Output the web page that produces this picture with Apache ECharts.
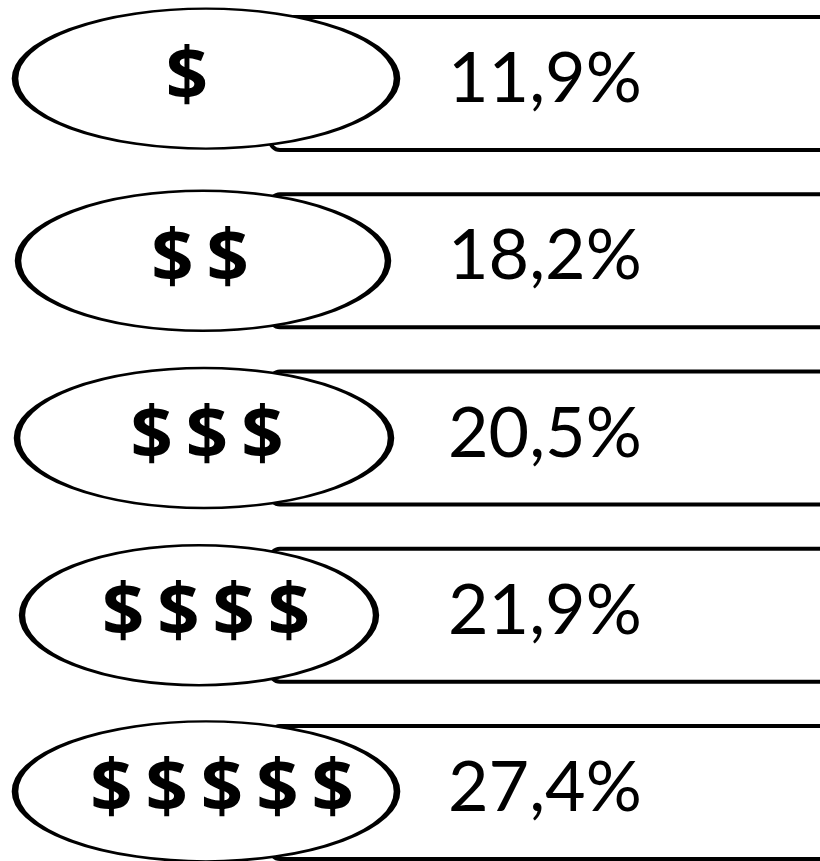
<!DOCTYPE html>
<html>
<head>
<meta charset="utf-8">
<script src="https://cdn.jsdelivr.net/npm/echarts@6/dist/echarts.min.js"></script>
<style>
    html, body { margin: 0; padding: 0; background: #fff; }
    #chart_wrap { width: 820px; height: 861px; }
</style>
</head>
<body>
<div id="chart_wrap"></div>
<script>
// price levels and share of answers
var levels = ['$', '$ $', '$ $ $', '$ $ $ $', '$ $ $ $ $'];
var shares = [11.9, 18.2, 20.5, 21.9, 27.4];

// oval badge look
var badgeCenterX = [206, 203, 204, 199, 206];
var badgeWidths = [382, 370, 374, 354, 382];
var badgeShiftY = [-5, 0, 0, 0, -1];
var badgeTextShift = [-19, -3, 3, 7, 16];
var badgeHeight = 140;

var formatShare = function(val) {
    return val.toFixed(1).replace('.', ',') + '%';
};

// big dollar signs, fixed gaps
var formatLevel = function(text) {
    return text.split(' ').map(function(s) {
        return '{d|' + s + '}';
    }).join('{s| }');
};

var badgeData = [];
for (var i = 0; i < levels.length; i++) {
    badgeData.push({
        value: [badgeCenterX[i], levels[i]],
        symbolSize: [badgeWidths[i], badgeHeight],
        symbolOffset: [0, badgeShiftY[i]],
        label: {
            offset: [badgeTextShift[i], 0]
        }
    });
}

var myChart = echarts.init(document.getElementById('chart_wrap'));

var option = {
    animation: false,
    backgroundColor: '#fff',
    grid: [{
        left: 268,
        right: 0,
        top: -5,
        height: 886,
        outerBoundsMode: 'none'
    }, {
        left: 0,
        right: 0,
        top: -5,
        height: 886,
        outerBoundsMode: 'none'
    }],
    xAxis: [{
        gridIndex: 0,
        type: 'value',
        min: 0,
        max: 10,
        show: false
    }, {
        gridIndex: 1,
        type: 'value',
        min: 0,
        max: 820,
        show: false
    }],
    yAxis: [{
        gridIndex: 0,
        type: 'category',
        inverse: true,
        data: levels,
        show: false
    }, {
        gridIndex: 1,
        type: 'category',
        inverse: true,
        data: levels,
        show: false
    }],
    series: [{
        // long bars running off the right side
        type: 'bar',
        xAxisIndex: 0,
        yAxisIndex: 0,
        data: shares,
        barWidth: 137,
        clip: false,
        itemStyle: {
            color: '#fff',
            borderColor: '#000',
            borderWidth: 4,
            borderRadius: [10, 0, 0, 10]
        },
        label: {
            show: true,
            position: 'insideLeft',
            distance: 180,
            offset: [0, -4],
            fontFamily: 'Lato',
            fontSize: 70,
            color: '#000',
            formatter: function(p) {
                return formatShare(p.value);
            }
        },
        z: 2
    }, {
        // oval with the dollar signs
        type: 'scatter',
        xAxisIndex: 1,
        yAxisIndex: 1,
        symbol: 'circle',
        data: badgeData,
        clip: false,
        itemStyle: {
            color: '#fff',
            borderColor: '#000',
            borderWidth: 4,
            opacity: 1
        },
        label: {
            show: true,
            position: 'inside',
            color: '#000',
            formatter: function(p) {
                return formatLevel(p.value[1]);
            },
            rich: {
                d: {
                    fontFamily: 'Open Sans',
                    fontWeight: 'bold',
                    fontSize: 74,
                    lineHeight: 84,
                    color: '#000'
                },
                s: {
                    width: 13,
                    fontSize: 20,
                    lineHeight: 84
                }
            }
        },
        z: 5
    }]
};
myChart.setOption(option);
</script>
</body>
</html>
